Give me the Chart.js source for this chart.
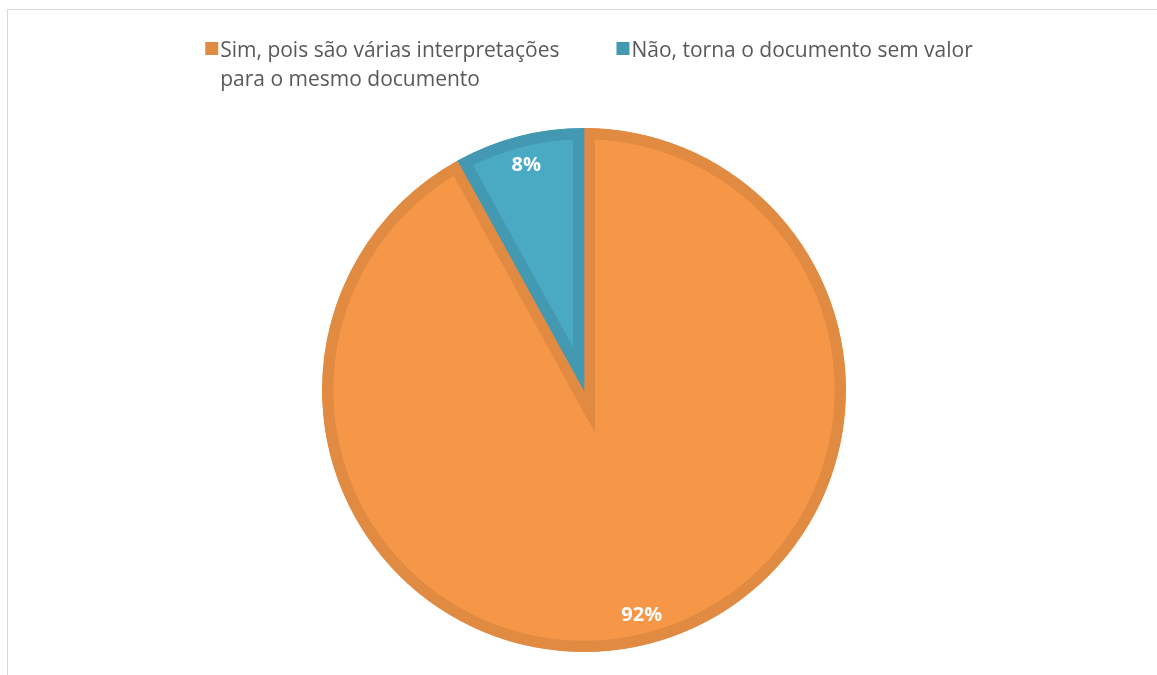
<!DOCTYPE html>
<html>
<head>
<meta charset="utf-8">
<script src="https://cdn.jsdelivr.net/npm/chart.js@4.4.1/dist/chart.umd.min.js"></script>
<style>
  html, body { margin: 0; padding: 0; background: #ffffff; overflow: hidden; }
  #wrap { position: relative; width: 1157px; height: 675px; overflow: hidden; }
  #frame { position: absolute; left: 7px; top: 9px; width: 1300px; height: 800px;
           border-top: 1px solid #d9d9d9; border-left: 1px solid #d9d9d9; }
  #chart { position: absolute; left: 0; top: 0; }
</style>
</head>
<body>
<div id="wrap">
  <div id="frame"></div>
  <canvas id="chart" width="1157" height="675"></canvas>
</div>
<script>
// Answer categories (the first one wraps onto two lines in the legend)
const categories = [
  ['Sim, pois são várias interpretações', 'para o mesmo documento'],
  'Não, torna o documento sem valor'
];
// Share of answers, in percent
const percentages = [92, 8];

const fillColors = ['#F59747', '#4AAAC4'];
const edgeColors = ['#E18A42', '#4399B1'];

const FONT_FAMILY = '"Open Sans", "Noto Sans", sans-serif';

// Writes the percentage inside each slice, near its outer edge
const sliceLabels = {
  id: 'sliceLabels',
  afterDatasetsDraw(chart) {
    const ctx = chart.ctx;
    const meta = chart.getDatasetMeta(0);
    ctx.save();
    ctx.font = 'bold 20px ' + FONT_FAMILY;
    ctx.fillStyle = '#ffffff';
    ctx.textAlign = 'center';
    ctx.textBaseline = 'middle';
    meta.data.forEach((arc, i) => {
      const p = arc.getProps(['x', 'y', 'startAngle', 'endAngle', 'outerRadius'], true);
      const mid = (p.startAngle + p.endAngle) / 2;
      const r = p.outerRadius * 0.886;
      ctx.fillText(percentages[i] + '%', p.x + Math.cos(mid) * r, p.y + Math.sin(mid) * r);
    });
    ctx.restore();
  }
};

// Legend row above the pie; wrapped labels keep their colour key on the first line
const legendStyle = { centerX: 589, boxTop: 42, box: 13, textGap: 2, itemGap: 57,
                      fontSize: 21, firstBaseline: 56.5, lineHeight: 29.5, color: '#595959' };
const topLegend = {
  id: 'topLegend',
  afterDraw(chart) {
    const s = legendStyle;
    const ctx = chart.ctx;
    ctx.save();
    ctx.font = s.fontSize + 'px ' + FONT_FAMILY;
    ctx.textAlign = 'left';
    ctx.textBaseline = 'alphabetic';
    const items = chart.data.labels.map((label, i) => {
      const lines = Array.isArray(label) ? label : [label];
      const width = Math.max(...lines.map(l => ctx.measureText(l).width));
      return { lines, width, color: edgeColors[i] };
    });
    const total = items.reduce((sum, it) => sum + s.box + s.textGap + it.width, 0)
                + s.itemGap * (items.length - 1);
    let x = s.centerX - total / 2;
    items.forEach(it => {
      ctx.fillStyle = it.color;
      ctx.fillRect(x, s.boxTop, s.box, s.box);
      ctx.fillStyle = s.color;
      it.lines.forEach((line, k) => {
        ctx.fillText(line, x + s.box + s.textGap, s.firstBaseline + k * s.lineHeight);
      });
      x += s.box + s.textGap + it.width + s.itemGap;
    });
    ctx.restore();
  }
};

new Chart(document.getElementById('chart'), {
  type: 'pie',
  data: {
    labels: categories,
    datasets: [{
      data: percentages,
      backgroundColor: fillColors,
      borderColor: edgeColors,
      borderWidth: 11,
      borderAlign: 'inner',
      borderJoinStyle: 'miter',
      hoverOffset: 0
    }]
  },
  options: {
    responsive: false,
    animation: false,
    radius: 262,
    layout: { padding: { top: 105, left: 11, right: 0, bottom: 0 } },
    plugins: {
      tooltip: { enabled: false },
      legend: { display: false }
    }
  },
  plugins: [sliceLabels, topLegend]
});
</script>
</body>
</html>
